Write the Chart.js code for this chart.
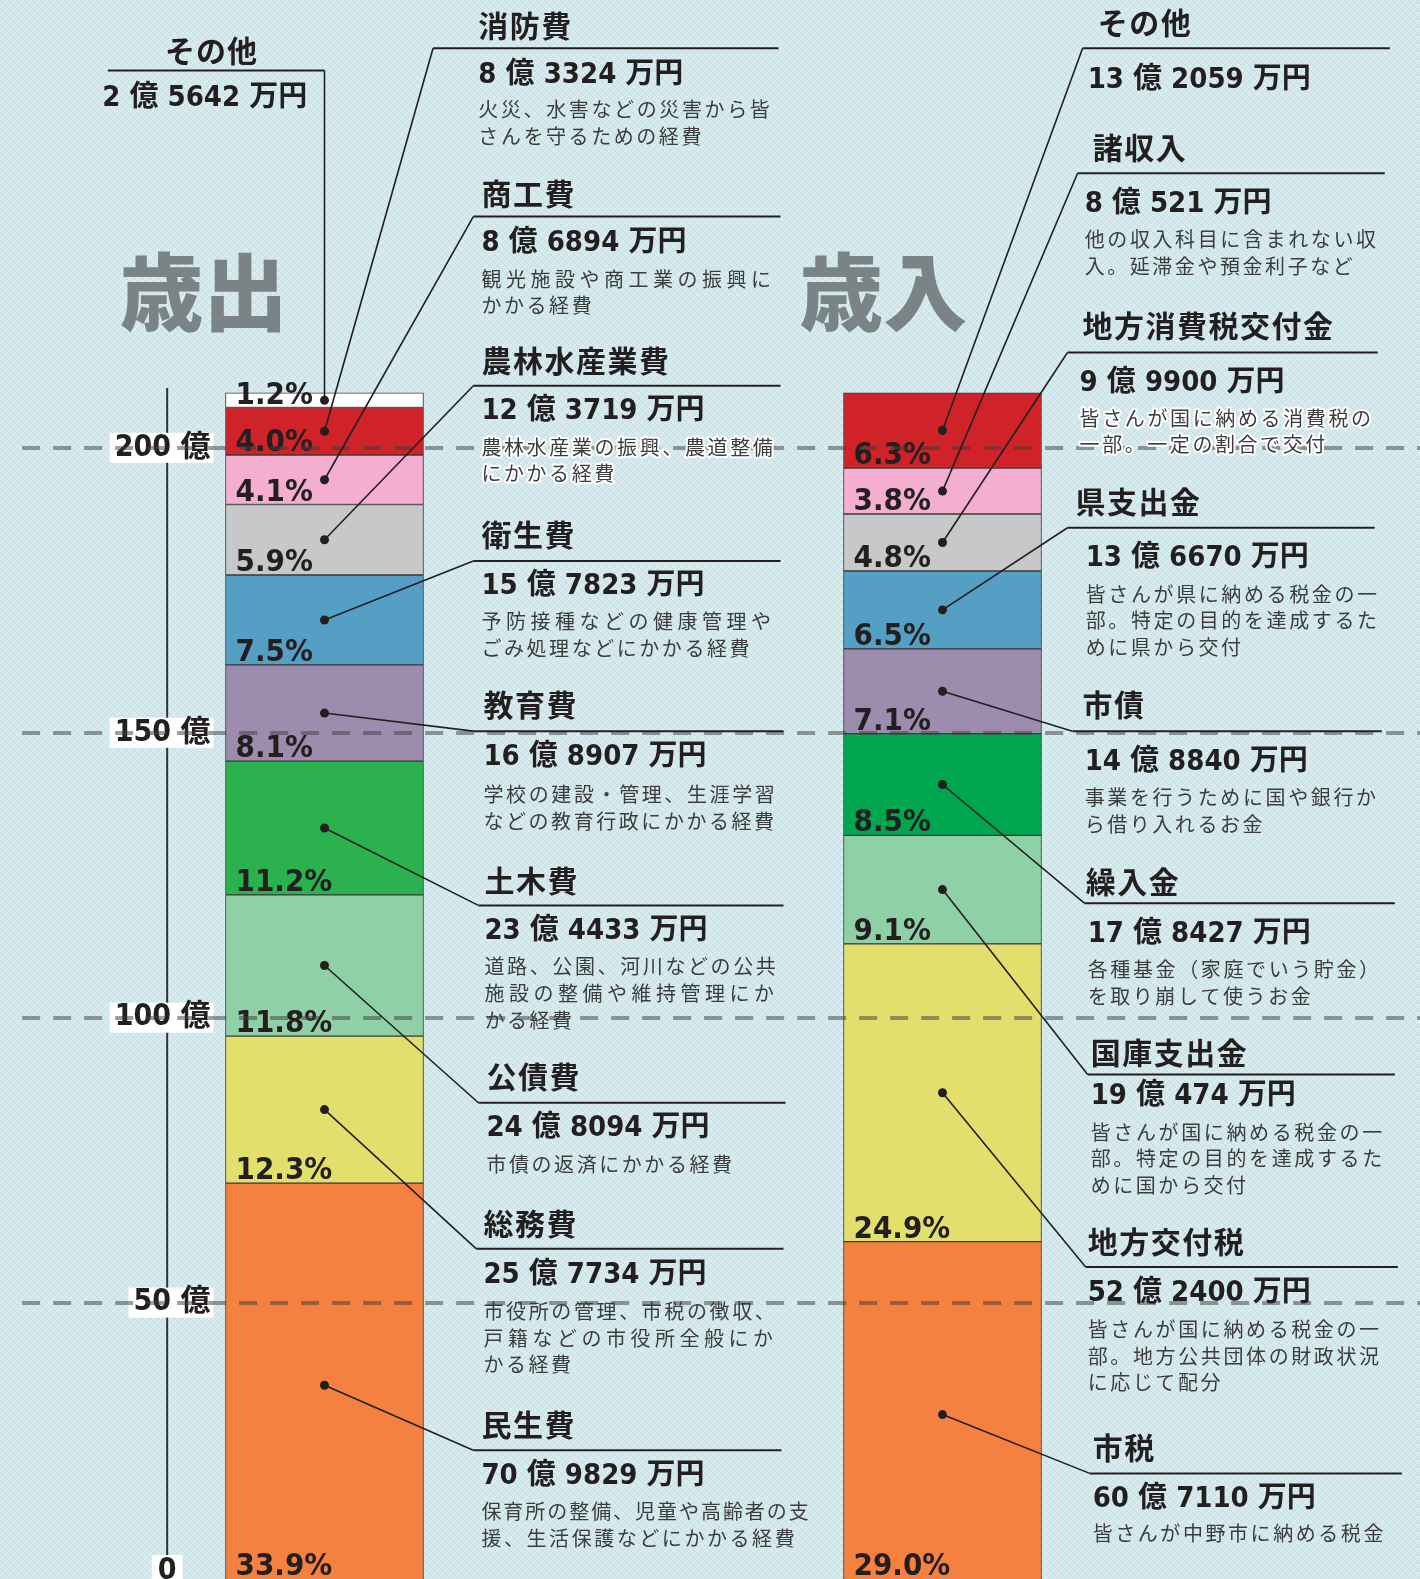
<!DOCTYPE html>
<html><head><meta charset="utf-8">
<script src="https://cdn.jsdelivr.net/npm/chart.js@4/dist/chart.umd.min.js"></script>
<style>html,body{margin:0;padding:0;background:#d4e8ec;}#wrap{width:1420px;height:1579px;}canvas{display:block}</style>
</head><body><div id="wrap"><canvas id="c" width="1420" height="1579"></canvas></div>
<script>
// ---------- DATA ----------
const categories = ['歳出', '歳入'];
// 歳出 (bottom → top), values in 万円
const outNames  = ['民生費','総務費','公債費','土木費','教育費','衛生費','農林水産業費','商工費','消防費','その他'];
const outValues = [709829, 257734, 248094, 234433, 168907, 157823, 123719, 86894, 83324, 25642];
const outDescs = [
  ['保育所の整備、児童や高齢者の支','援、生活保護などにかかる経費'],
  ['市役所の管理、市税の徴収、','戸籍などの市役所全般にか','かる経費'],
  ['市債の返済にかかる経費'],
  ['道路、公園、河川などの公共','施設の整備や維持管理にか','かる経費'],
  ['学校の建設・管理、生涯学習','などの教育行政にかかる経費'],
  ['予防接種などの健康管理や','ごみ処理などにかかる経費'],
  ['農林水産業の振興、農道整備','にかかる経費'],
  ['観光施設や商工業の振興に','かかる経費'],
  ['火災、水害などの災害から皆','さんを守るための経費'],
  []
];
// 歳入 (bottom → top), values in 万円
const inNames  = ['市税','地方交付税','国庫支出金','繰入金','市債','県支出金','地方消費税交付金','諸収入','その他'];
const inValues = [607110, 522400, 190474, 178427, 148840, 136670, 99900, 80521, 132059];
const inDescs = [
  ['皆さんが中野市に納める税金'],
  ['皆さんが国に納める税金の一','部。地方公共団体の財政状況','に応じて配分'],
  ['皆さんが国に納める税金の一','部。特定の目的を達成するた','めに国から交付'],
  ['各種基金（家庭でいう貯金）','を取り崩して使うお金'],
  ['事業を行うために国や銀行か','ら借り入れるお金'],
  ['皆さんが県に納める税金の一','部。特定の目的を達成するた','めに県から交付'],
  ['皆さんが国に納める消費税の','一部。一定の割合で交付'],
  ['他の収入科目に含まれない収','入。延滞金や預金利子など'],
  []
];
const tickValues = [0, 50, 100, 150, 200];
const tickLabels = ['0', '50 億', '100 億', '150 億', '200 億'];

// ---------- STYLE / LAYOUT ----------
const outColors = ['#f58140','#e3df6c','#8fd0a7','#2bb24f','#9e8cae','#569fc4','#c7c8ca','#f4aed0','#d02229','#ffffff'];
const inColors  = ['#f58140','#e3df6c','#8fd0a7','#00a54f','#9e8cae','#569fc4','#c7c8ca','#f4aed0','#d02229'];
const S = 1420 / 1410;
const F_NUM = "'DejaVu Sans Condensed','Liberation Sans Narrow','Noto Sans CJK JP',sans-serif";
const F_JP = "'Noto Sans CJK JP','Noto Sans',sans-serif";
const outLayout = [
 {tx:478,bx:478,ty:1415,ly:1440,lx0:470,lx1:776,ay:1466,dy:1501,w:327},
 {tx:480,bx:480,ty:1215,ly:1240,lx0:473,lx1:778,ay:1266,dy:1302,w:292},
 {tx:483,bx:483,ty:1069,ly:1095,lx0:475,lx1:780,ay:1121,dy:1156,w:292},
 {tx:481,bx:481,ty:874,ly:899,lx0:475,lx1:778,ay:925,dy:960,w:292},
 {tx:480,bx:480,ty:700,ly:726,lx0:470,lx1:778,ay:752,dy:789,w:292},
 {tx:478,bx:478,ty:531,ly:557,lx0:470,lx1:775,ay:582,dy:617,w:292},
 {tx:478,bx:478,ty:358,ly:383,lx0:470,lx1:775,ay:409,dy:444,w:292,halo:true},
 {tx:478,bx:478,ty:192,ly:215,lx0:470,lx1:775,ay:242,dy:277,w:292},
 {tx:475,bx:475,ty:25,ly:48,lx0:430,lx1:773,ay:75,dy:109,w:292},
 {special:true,tcx:210,ty:50,ly:70,lx0:107,ax:305,ay:98}
];
const inLayout = [
 {tx:1085,bx:1085,ty:1437,ly:1463,lx0:1082,lx1:1392,ay:1489,dy:1523,w:292},
 {tx:1080,bx:1080,ty:1233,ly:1258,lx0:1078,lx1:1388,ay:1284,dy:1320,w:292},
 {tx:1083,bx:1083,ty:1045,ly:1067,lx0:1080,lx1:1385,ay:1089,dy:1124,w:292},
 {tx:1078,bx:1080,ty:875,ly:897,lx0:1077,lx1:1385,ay:928,dy:963,w:292},
 {tx:1075,bx:1077,ty:700,ly:726,lx0:1065,lx1:1372,ay:757,dy:792,w:292},
 {tx:1068,bx:1078,ty:498,ly:524,lx0:1060,lx1:1365,ay:555,dy:590,w:292},
 {tx:1075,bx:1072,ty:323,ly:350,lx0:1060,lx1:1368,ay:381,dy:415,w:292,halo:true},
 {tx:1085,bx:1077,ty:147,ly:172,lx0:1070,lx1:1375,ay:203,dy:238,w:292},
 {tx:1090,bx:1080,ty:22,ly:48,lx0:1075,lx1:1380,ay:80,dy:0,w:292}
];
const bigTitlePos = [{x:202,y:290},{x:877,y:290}];

// ---------- DATASETS ----------
const datasets = [];
outValues.forEach((v,i)=>datasets.push({label:outNames[i],data:[v/10000,null],backgroundColor:outColors[i],
  borderColor:'#3a3a3a',borderWidth:1,borderSkipped:false,barThickness:198,_side:0,_idx:i}));
inValues.forEach((v,i)=>datasets.push({label:inNames[i],data:[null,v/10000],backgroundColor:inColors[i],
  borderColor:'#3a3a3a',borderWidth:1,borderSkipped:false,barThickness:198,_side:1,_idx:i}));

function fmtAmount(v){ return Math.floor(v/10000)+' 億 '+(v%10000)+' 万円'; }

function makePattern(ctx){
  const p=document.createElement('canvas'); p.width=8; p.height=8;
  const c=p.getContext('2d');
  c.fillStyle='#d4e8ec'; c.fillRect(0,0,8,8);
  c.strokeStyle='rgba(255,255,255,0.35)'; c.lineWidth=1;
  c.beginPath(); c.moveTo(0,8); c.lineTo(8,0); c.stroke();
  c.strokeStyle='rgba(150,185,195,0.22)';
  c.beginPath(); c.moveTo(0,0); c.lineTo(8,8); c.stroke();
  return ctx.createPattern(p,'repeat');
}

function drawDesc(ctx, lines, x, y, W, halo){
  ctx.save();
  ctx.font = '20px '+F_JP; ctx.textAlign='left'; ctx.textBaseline='middle';
  const passes = halo ? ['stroke','fill'] : ['fill'];
  passes.forEach(pass=>{
    lines.forEach((ln,i)=>{
      const ch=[...ln]; const last = i===lines.length-1;
      const adv = last ? 22.4*S : W*S/ch.length;
      const yy = y + i*26.5*S;
      ch.forEach((c,k)=>{
        const cx = x + k*adv;
        if(pass==='stroke'){ctx.strokeStyle='#ffffff';ctx.lineWidth=4;ctx.lineJoin='round';ctx.strokeText(c,cx,yy);}
        else {ctx.fillStyle='#3c3c3c';ctx.fillText(c,cx,yy);}
      });
    });
  });
  ctx.restore();
}

const infographic = {
  id:'infographic',
  beforeDraw(chart){
    const ctx=chart.ctx; ctx.save();
    ctx.fillStyle=makePattern(ctx); ctx.fillRect(0,0,chart.width,chart.height);
    ctx.restore();
  },
  afterDatasetsDraw(chart){
    const ctx=chart.ctx, y=chart.scales.y, area=chart.chartArea;
    const tot=[outValues.reduce((a,b)=>a+b,0), inValues.reduce((a,b)=>a+b,0)];
    ctx.save();
    // percent labels
    chart.data.datasets.forEach((ds,di)=>{
      const el=chart.getDatasetMeta(di).data[ds._side];
      const vals = ds._side===0?outValues:inValues;
      const pct=(vals[ds._idx]/tot[ds._side]*100).toFixed(1)+'%';
      ctx.font='bold 31px '+F_NUM; ctx.fillStyle='#231f20'; ctx.textAlign='left'; ctx.textBaseline='alphabetic';
      ctx.fillText(pct, el.x - el.width/2 + 10, Math.min(el.base, area.bottom) - 4);
    });
    // y axis line
    const axisX=166*S;
    ctx.strokeStyle='#333'; ctx.lineWidth=2; ctx.setLineDash([]);
    ctx.beginPath(); ctx.moveTo(axisX, area.top); ctx.lineTo(axisX, area.bottom); ctx.stroke();
    // tick labels with white boxes
    tickValues.forEach((v,i)=>{
      const py=y.getPixelForValue(v);
      ctx.font='bold 30px '+F_NUM; ctx.textBaseline='middle';
      const w=ctx.measureText(tickLabels[i]).width;
      if(v===0){
        const cy=Math.min(py, chart.height-8);
        ctx.fillStyle='#ffffff'; ctx.fillRect(axisX-w/2-6, cy-16, w+12, 32);
        ctx.fillStyle='#231f20'; ctx.textAlign='center'; ctx.fillText(tickLabels[i], axisX, cy);
      } else {
        const rx=209*S;
        ctx.fillStyle='#ffffff'; ctx.fillRect(rx-w-5, py-15, w+8, 30);
        ctx.fillStyle='#231f20'; ctx.textAlign='right'; ctx.fillText(tickLabels[i], rx, py);
      }
    });
    // dashed gridlines over bars
    ctx.strokeStyle='rgba(60,60,60,0.5)'; ctx.lineWidth=4; ctx.setLineDash([18,13]);
    tickValues.forEach(v=>{
      if(v<=0) return;
      const py=Math.round(y.getPixelForValue(v));
      ctx.beginPath(); ctx.moveTo(22*S, py); ctx.lineTo(chart.width, py); ctx.stroke();
    });
    ctx.restore();
  },
  afterDraw(chart){
    const ctx=chart.ctx, area=chart.chartArea; ctx.save();
    // big titles
    ctx.font='900 84px '+F_JP; ctx.fillStyle='#7a8385'; ctx.textAlign='center'; ctx.textBaseline='middle';
    categories.forEach((c,i)=>ctx.fillText(c, bigTitlePos[i].x*S, bigTitlePos[i].y*S));
    chart.data.datasets.forEach((ds,di)=>{
      const el=chart.getDatasetMeta(di).data[ds._side];
      const side=ds._side, i=ds._idx;
      const L=(side===0?outLayout:inLayout)[i];
      const name=(side===0?outNames:inNames)[i];
      const val=(side===0?outValues:inValues)[i];
      const desc=(side===0?outDescs:inDescs)[i];
      const dx=el.x, dy=(el.y+el.base)/2;
      ctx.setLineDash([]); ctx.strokeStyle='#231f20';
      if(L.special){
        ctx.lineWidth=1.6;
        ctx.beginPath(); ctx.moveTo(dx,dy); ctx.lineTo(dx,L.ly*S); ctx.stroke();
        ctx.lineWidth=2;
        ctx.beginPath(); ctx.moveTo(dx,L.ly*S); ctx.lineTo(L.lx0*S,L.ly*S); ctx.stroke();
        ctx.font='bold 30px '+F_JP; ctx.fillStyle='#231f20'; ctx.textAlign='center'; ctx.textBaseline='middle';
        ctx.letterSpacing='1px';
        ctx.fillText(name, L.tcx*S, L.ty*S);
        ctx.letterSpacing='0px';
        ctx.font='bold 29px '+F_NUM; ctx.textAlign='right';
        ctx.fillText(fmtAmount(val), L.ax*S, L.ay*S);
      } else {
        ctx.lineWidth=1.6;
        ctx.beginPath(); ctx.moveTo(dx,dy); ctx.lineTo(L.lx0*S,L.ly*S); ctx.stroke();
        ctx.lineWidth=2;
        ctx.beginPath(); ctx.moveTo(L.lx0*S,L.ly*S); ctx.lineTo(L.lx1*S,L.ly*S); ctx.stroke();
        ctx.font='bold 30px '+F_JP; ctx.fillStyle='#231f20'; ctx.textAlign='left'; ctx.textBaseline='middle';
        ctx.letterSpacing='1.5px';
        ctx.fillText(name, L.tx*S, L.ty*S);
        ctx.letterSpacing='0px';
        ctx.font='bold 29px '+F_NUM;
        ctx.fillText(fmtAmount(val), L.bx*S, L.ay*S);
        if(desc.length) drawDesc(ctx, desc, L.bx*S, L.dy*S, L.w, L.halo);
      }
      // dot
      ctx.fillStyle='#231f20';
      ctx.beginPath(); ctx.arc(dx,dy,4.5,0,Math.PI*2); ctx.fill();
    });
    ctx.restore();
  }
};

new Chart(document.getElementById('c'), {
  type:'bar',
  data:{labels:categories, datasets},
  options:{
    responsive:false, animation:false, devicePixelRatio:1,
    layout:{padding:{left:15.5, right:168.5, top:388, bottom:0}},
    plugins:{legend:{display:false}, tooltip:{enabled:false}},
    scales:{
      x:{type:'category', display:false, stacked:true, offset:true},
      y:{display:false, stacked:true, min:1.5, max:210.5}
    }
  },
  plugins:[infographic]
});
</script></body></html>
